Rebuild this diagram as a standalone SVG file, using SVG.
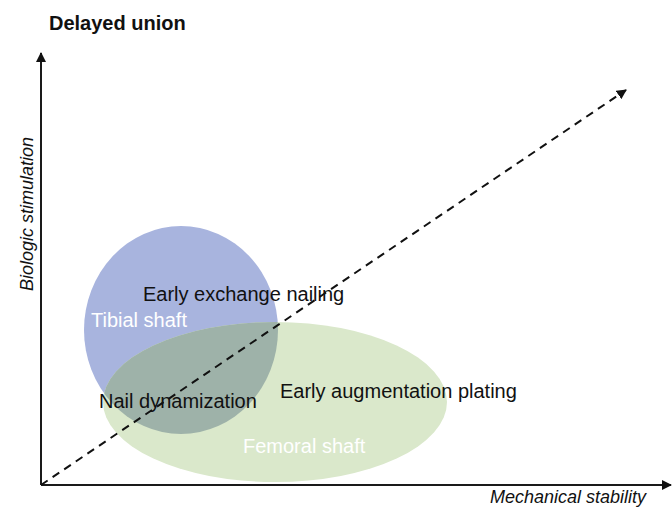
<svg xmlns="http://www.w3.org/2000/svg" width="672" height="509" viewBox="0 0 672 509">
<style>
.lbl{font-family:"Liberation Sans",Arial,sans-serif;font-size:20px;fill:#111}
.wl{font-family:"Liberation Sans",Arial,sans-serif;font-size:20px;fill:#ffffff}
.ax{font-family:"Liberation Sans",Arial,sans-serif;font-size:18px;font-style:italic;fill:#111}
.axis{stroke:#1a1a1a;stroke-width:2;fill:none}
.dash{stroke:#111;stroke-width:2;fill:none;stroke-dasharray:8 6}
</style>
<defs>
<marker id="ah" viewBox="0 0 10 10" refX="9" refY="5" markerWidth="5" markerHeight="5" orient="auto" markerUnits="strokeWidth">
<path d="M0,0 L10,5 L0,10 z" fill="#111"/>
</marker>
<clipPath id="blueClip"><ellipse cx="181" cy="330" rx="97" ry="104"/></clipPath>
</defs>
<rect width="672" height="509" fill="#ffffff"/>
<text x="49" y="30" font-family="Liberation Sans, Arial, sans-serif" font-size="20" font-weight="bold" fill="#111">Delayed union</text>
<g id="tibial">
<ellipse cx="181" cy="330" rx="97" ry="104" fill="#a8b4de"/>
</g>
<g id="femoral">
<ellipse cx="275" cy="402" rx="172" ry="80" fill="#dae8cb"/>
<ellipse cx="275" cy="402" rx="172" ry="80" fill="#9eb2a9" clip-path="url(#blueClip)"/>
</g>
<g id="connectors">
<line class="axis" x1="41" y1="485" x2="41" y2="53" marker-end="url(#ah)"/>
<line class="axis" x1="41" y1="485" x2="671" y2="485" marker-end="url(#ah)"/>
<line class="dash" x1="41" y1="485" x2="626" y2="90" marker-end="url(#ah)"/>
</g>
<g id="labels">
<text class="lbl" x="143" y="301">Early exchange nailing</text>
<text class="wl" x="91" y="327">Tibial shaft</text>
<text class="lbl" x="99" y="408">Nail dynamization</text>
<text class="lbl" x="280" y="398">Early augmentation plating</text>
<text class="wl" x="243" y="453">Femoral shaft</text>
</g>
<text class="ax" x="490" y="503">Mechanical stability</text>
<text class="ax" transform="translate(33,291) rotate(-90)">Biologic stimulation</text>
</svg>
